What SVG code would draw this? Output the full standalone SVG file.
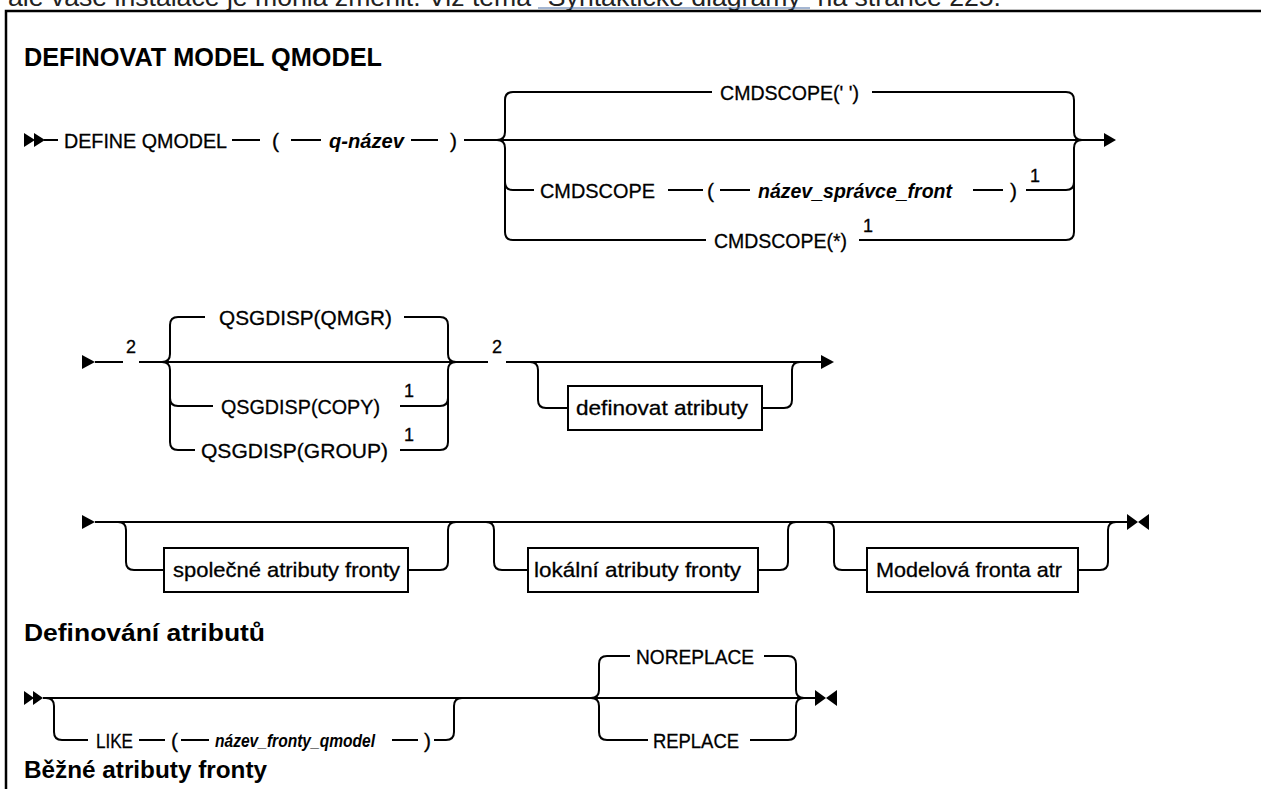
<svg xmlns="http://www.w3.org/2000/svg" width="1261" height="789" viewBox="0 0 1261 789">
<style>
.ln{fill:none;stroke:#000;stroke-width:2}
.t{font-family:"Liberation Sans",Arial,sans-serif;font-size:21px;fill:#000;stroke:#000;stroke-width:0.3}
.v{font-style:italic;font-weight:bold;stroke-width:0}
.sup{font-family:"Liberation Sans",Arial,sans-serif;font-size:18px;fill:#000;stroke:#000;stroke-width:0.3}
.h{font-family:"Liberation Sans",Arial,sans-serif;font-weight:bold;fill:#000}
.box{fill:#fff;stroke:#000;stroke-width:2}
.ar{fill:#000}
</style>
<rect width="1261" height="789" fill="#fff"/>
<g id="page-top">
<text x="8" y="6" font-family="'Liberation Sans',Arial,sans-serif" font-size="26.6" fill="#222" textLength="993" lengthAdjust="spacingAndGlyphs">ale vaše instalace je mohla změnit. Viz téma "Syntaktické diagramy" na stránce 225.</text>
<line x1="538" y1="8" x2="810" y2="8" stroke="#4a6fa5" stroke-width="1.2"/>
<path d="M6,789 V11 H1261" fill="none" stroke="#000" stroke-width="2.5"/>
</g>
<g id="title"><text class="h" x="24" y="66" font-size="25" textLength="358" lengthAdjust="spacingAndGlyphs">DEFINOVAT MODEL QMODEL</text></g>
<g id="heading-definovani"><text class="h" x="24" y="641" font-size="24" textLength="241" lengthAdjust="spacingAndGlyphs">Definování atributů</text></g>
<g id="heading-bezne"><text class="h" x="24" y="778" font-size="24" textLength="243" lengthAdjust="spacingAndGlyphs">Běžné atributy fronty</text></g>

<g id="connectors">
<path class="ln" d="M44,140 H58 M232,140 H260 M291,140 H321 M411,140 H438 M464,140 H1104"/>
<path class="ln" d="M497,140 Q505,140 505,132 V100 Q505,92 513,92 H712 M872,92 H1066 Q1074,92 1074,100 V132 Q1074,140 1082,140"/>
<path class="ln" d="M497,140 Q505,140 505,148 V232 Q505,240 513,240 H706 M505,182 Q505,190 513,190 H534"/>
<path class="ln" d="M668,190 H703 M720,190 H750 M973,190 H1003 M1026,190 H1066 Q1074,190 1074,182"/>
<path class="ln" d="M859,240 H1066 Q1074,240 1074,232 V148 Q1074,140 1082,140"/>
<path class="ln" d="M95,362 H123 M139,362 H488 M506,362 H821"/>
<path class="ln" d="M162,362 Q170,362 170,354 V325 Q170,317 178,317 H205 M162,362 Q170,362 170,370 V442 Q170,450 178,450 H195 M170,398 Q170,406 178,406 H213"/>
<path class="ln" d="M404,317 H440 Q448,317 448,325 V354 Q448,362 456,362 M400,450 H440 Q448,450 448,442 V370 Q448,362 456,362 M400,406 H440 Q448,406 448,398"/>
<path class="ln" d="M530,362 Q538,362 538,370 V400 Q538,408 546,408 H568 M762,408 H784 Q792,408 792,400 V370 Q792,362 800,362"/>
<path class="ln" d="M95,522 H1127"/>
<path class="ln" d="M118,522 Q126,522 126,530 V562 Q126,570 134,570 H164 M408,570 H440 Q448,570 448,562 V530 Q448,522 456,522"/>
<path class="ln" d="M486,522 Q494,522 494,530 V562 Q494,570 502,570 H528 M758,570 H780 Q788,570 788,562 V530 Q788,522 796,522"/>
<path class="ln" d="M826,522 Q834,522 834,530 V562 Q834,570 842,570 H867 M1078,570 H1100 Q1108,570 1108,562 V530 Q1108,522 1116,522"/>
<path class="ln" d="M43,698 H815"/>
<path class="ln" d="M46,698 Q54,698 54,706 V732 Q54,740 62,740 H88 M139,740 H165 M181,740 H209 M392,740 H418 M434,740 H446 Q454,740 454,732 V706 Q454,698 462,698"/>
<path class="ln" d="M591,698 Q599,698 599,690 V664 Q599,656 607,656 H630 M764,656 H788 Q796,656 796,664 V690 Q796,698 804,698"/>
<path class="ln" d="M591,698 Q599,698 599,706 V732 Q599,740 607,740 H648 M750,740 H788 Q796,740 796,732 V706 Q796,698 804,698"/>
<polygon class="ar" points="24,133 35,140 24,147"/><polygon class="ar" points="34,133 45,140 34,147"/>
<polygon class="ar" points="1104,133 1116,140 1104,147"/>
<polygon class="ar" points="82,355 95,362 82,369"/>
<polygon class="ar" points="821,355 834,362 821,369"/>
<polygon class="ar" points="82,515 95,522 82,529"/>
<polygon class="ar" points="1127,514 1138,522 1127,530"/><polygon class="ar" points="1149,514 1138,522 1149,530"/>
<polygon class="ar" points="24,691 34,698 24,705"/><polygon class="ar" points="33,691 43,698 33,705"/>
<polygon class="ar" points="815,690 826,698 815,706"/><polygon class="ar" points="837,690 826,698 837,706"/>
</g>

<g id="n-define"><text class="t" x="64" y="148" textLength="163" lengthAdjust="spacingAndGlyphs">DEFINE QMODEL</text></g>
<g id="n-lp1"><text class="t" x="272" y="148">(</text></g>
<g id="n-qnazev"><text class="t v" x="329" y="148" textLength="75" lengthAdjust="spacingAndGlyphs">q-název</text></g>
<g id="n-rp1"><text class="t" x="450" y="148">)</text></g>
<g id="n-cmdscope-blank"><text class="t" x="720" y="100" textLength="139" lengthAdjust="spacingAndGlyphs">CMDSCOPE(' ')</text></g>
<g id="n-cmdscope-qmgr">
<text class="t" x="540" y="198" textLength="115" lengthAdjust="spacingAndGlyphs">CMDSCOPE</text>
<text class="t" x="707" y="198">(</text>
<text class="t v" x="758" y="198" textLength="194" lengthAdjust="spacingAndGlyphs">název_správce_front</text>
<text class="t" x="1010" y="198">)</text>
<text class="sup" x="1030" y="182">1</text>
</g>
<g id="n-cmdscope-star">
<text class="t" x="714" y="248" textLength="133" lengthAdjust="spacingAndGlyphs">CMDSCOPE(*)</text>
<text class="sup" x="863" y="232">1</text>
</g>
<g id="n-note2a"><text class="sup" x="126" y="353">2</text></g>
<g id="n-qsg-qmgr"><text class="t" x="219" y="325" textLength="173" lengthAdjust="spacingAndGlyphs">QSGDISP(QMGR)</text></g>
<g id="n-qsg-copy"><text class="t" x="221" y="414" textLength="159" lengthAdjust="spacingAndGlyphs">QSGDISP(COPY)</text><text class="sup" x="404" y="397">1</text></g>
<g id="n-qsg-group"><text class="t" x="201" y="458" textLength="187" lengthAdjust="spacingAndGlyphs">QSGDISP(GROUP)</text><text class="sup" x="404" y="441">1</text></g>
<g id="n-note2b"><text class="sup" x="492" y="353">2</text></g>
<g id="n-definovat-atributy"><rect class="box" x="568" y="386" width="194" height="44"/><text class="t" x="576" y="415" textLength="172" lengthAdjust="spacingAndGlyphs">definovat atributy</text></g>
<g id="n-spolecne"><rect class="box" x="164" y="548" width="244" height="44"/><text class="t" x="173" y="577" textLength="227" lengthAdjust="spacingAndGlyphs">společné atributy fronty</text></g>
<g id="n-lokalni"><rect class="box" x="528" y="548" width="230" height="44"/><text class="t" x="534" y="577" textLength="207" lengthAdjust="spacingAndGlyphs">lokální atributy fronty</text></g>
<g id="n-modelova"><rect class="box" x="867" y="548" width="211" height="44"/><text class="t" x="876" y="577" textLength="186" lengthAdjust="spacingAndGlyphs">Modelová fronta atr</text></g>
<g id="n-like">
<text class="t" x="96" y="748" textLength="37" lengthAdjust="spacingAndGlyphs">LIKE</text>
<text class="t" x="171" y="748">(</text>
<text class="t v" x="215" y="747" style="font-size:19px" textLength="160" lengthAdjust="spacingAndGlyphs">název_fronty_qmodel</text>
<text class="t" x="424" y="748">)</text>
</g>
<g id="n-noreplace"><text class="t" x="636" y="664" textLength="118" lengthAdjust="spacingAndGlyphs">NOREPLACE</text></g>
<g id="n-replace"><text class="t" x="653" y="748" textLength="86" lengthAdjust="spacingAndGlyphs">REPLACE</text></g>
</svg>
